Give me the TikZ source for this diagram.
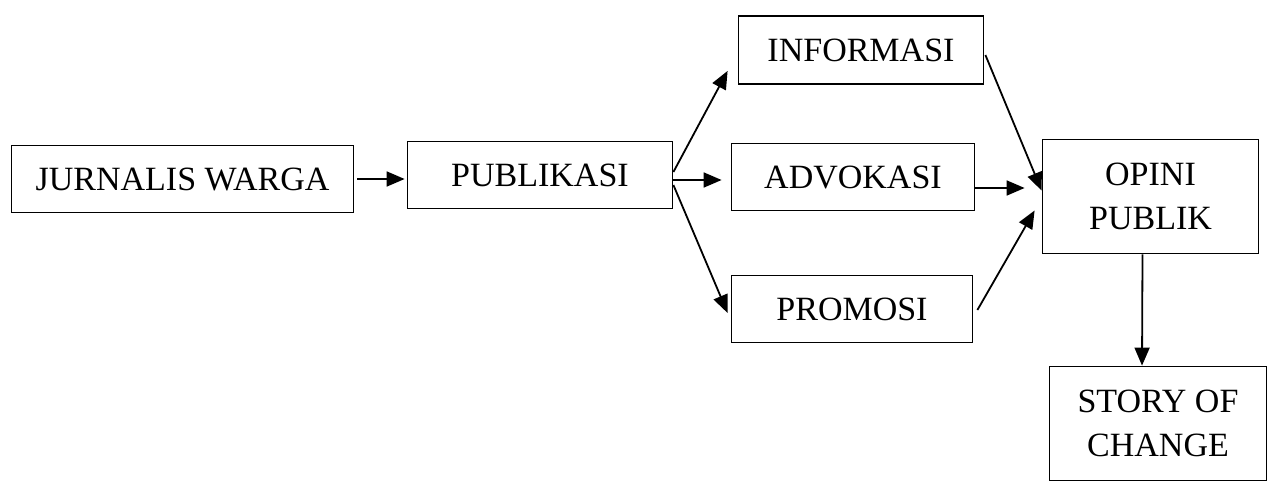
\documentclass[tikz,border=0pt]{standalone}
\usepackage{fontspec}
\setmainfont{Liberation Serif}
\usetikzlibrary{arrows.meta}
\begin{document}
\begin{tikzpicture}[x=1pt,y=-1pt,
  box/.style={draw, line width=1.8pt, inner sep=0pt, align=center, font=\fontsize{34}{44}\selectfont},
  arr/.style={line width=1.8pt, -{Triangle[length=18pt,width=15pt]}}]
  \useasboundingbox (0,0) rectangle (1284,487);
  % boxes
  \node[box, minimum width=342pt, minimum height=67pt] (jurnalis) at (182.5,179) {JURNALIS WARGA};
  \node[box, minimum width=265pt, minimum height=67pt] (publikasi) at (540,175) {PUBLIKASI};
  \node[box, minimum width=245pt, minimum height=68pt] (informasi) at (861,50) {INFORMASI};
  \node[box, minimum width=243pt, minimum height=67pt] (advokasi) at (853,177) {ADVOKASI};
  \node[box, minimum width=241pt, minimum height=67pt] (promosi) at (852,309) {PROMOSI};
  \node[box, minimum width=216pt, minimum height=114pt] (opini) at (1150.5,196.5) {OPINI\\PUBLIK};
  \node[box, minimum width=217pt, minimum height=114pt] (story) at (1158,423.5) {STORY OF\\CHANGE};
  % arrows
  \draw[arr] ([xshift=3pt]jurnalis.east) -- ([xshift=-2pt,yshift=-4pt]publikasi.west);
  \draw[arr] ([yshift=3pt]publikasi.east) -- ([xshift=-10pt,yshift=14pt]informasi.south west);
  \draw[arr] ([yshift=-5pt]publikasi.east) -- ([xshift=-9pt,yshift=-3pt]advokasi.west);
  \draw[arr] ([yshift=-10pt]publikasi.east) -- ([xshift=-3pt,yshift=-4pt]promosi.west);
  \draw[arr] ([xshift=1pt,yshift=-5pt]informasi.east) -- ([yshift=6pt]opini.west);
  \draw[arr] ([yshift=-11pt]advokasi.east) -- ([xshift=-17pt,yshift=-11pt]advokasi.east -| opini.west);
  \draw[arr] ([xshift=4pt,yshift=-1pt]promosi.east) -- ([xshift=-7pt,yshift=-14pt]opini.west);
  \draw[arr] ([xshift=-8pt]opini.south) -- ([xshift=-16pt]story.north);
\end{tikzpicture}
\end{document}
